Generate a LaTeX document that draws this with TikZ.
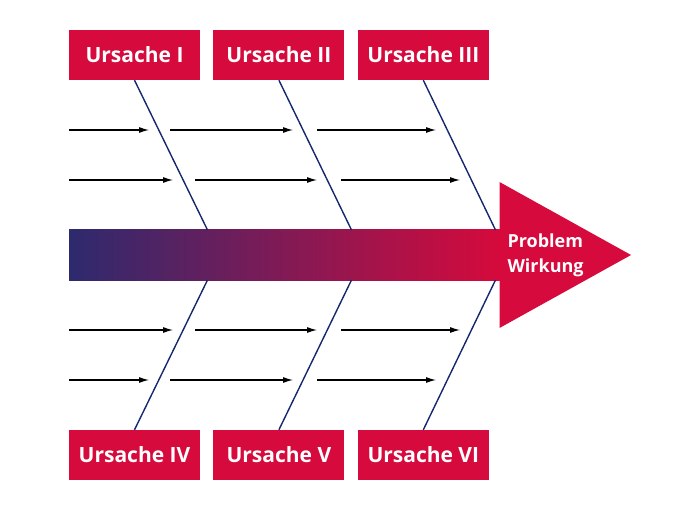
\documentclass[tikz,border=0pt]{standalone}
\usepackage{fontspec}
\setmainfont{Open Sans}
\usetikzlibrary{arrows.meta, positioning}
\definecolor{causered}{RGB}{214,10,60}
\definecolor{spineblue}{RGB}{45,42,110}
\definecolor{bonenavy}{RGB}{20,40,110}

\begin{document}
\begin{tikzpicture}[x=1pt, y=-1pt, >={Latex[length=10pt,width=6pt]}]
        % Define block styles
        \tikzstyle{cause} = [fill=causered, text=white, font=\bfseries\fontsize{21}{25}\selectfont, minimum width=131pt, minimum height=50pt, inner sep=0pt]
        \tikzstyle{bone} = [draw=bonenavy, line width=1.4pt]
        \tikzstyle{sub} = [->, line width=1.1pt]
        \useasboundingbox (0,0) rectangle (700,510);

        % Nodes
        \node [cause] (u1) at (134.5,55) {Ursache I};
        \node [cause, right=13pt of u1] (u2) {Ursache II};
        \node [cause, right=13pt of u2] (u3) {Ursache III};
        \node [cause] (u4) at (134.5,455) {Ursache IV};
        \node [cause, right=13pt of u4] (u5) {Ursache V};
        \node [cause, right=13pt of u5] (u6) {Ursache VI};
        \node [minimum width=431pt, minimum height=50pt, inner sep=0pt, left color=spineblue, right color=causered] (spine) at (284.5,255) {};
        \fill [causered] (499.5,182) -- (631,255) -- (499.5,328) -- cycle;
        \node [anchor=west, text=white, align=left, font=\bfseries\fontsize{18}{25}\selectfont] (effect) at (504,255) {Problem\\Wirkung};

        % Joints on the spine
        \coordinate (j1) at (207.5,230); \coordinate (j2) at (351.5,230); \coordinate (j3) at (495.5,230);
        \coordinate (j4) at (207.5,280); \coordinate (j5) at (351.5,280); \coordinate (j6) at (495.5,280);

        % Sub-cause ends
        \coordinate (s1) at (69,130);  \coordinate (e1) at (149,130);
        \coordinate (s2) at (170,130); \coordinate (e2) at (293,130);
        \coordinate (s3) at (317,130); \coordinate (e3) at (436,130);
        \coordinate (s4) at (69,180);  \coordinate (e4) at (173,180);
        \coordinate (s5) at (195,180); \coordinate (e5) at (317,180);
        \coordinate (s6) at (341,180); \coordinate (e6) at (460,180);
        \coordinate (s7) at (69,330);  \coordinate (e7) at (173,330);
        \coordinate (s8) at (195,330); \coordinate (e8) at (317,330);
        \coordinate (s9) at (341,330); \coordinate (e9) at (460,330);
        \coordinate (s10) at (69,380);  \coordinate (e10) at (149,380);
        \coordinate (s11) at (170,380); \coordinate (e11) at (293,380);
        \coordinate (s12) at (317,380); \coordinate (e12) at (436,380);

        % Edges
        \draw [bone] (u1.south) -- (j1);
        \draw [bone] (u2.south) -- (j2);
        \draw [bone] (u3.south) -- (j3);
        \draw [bone] (u4.north) -- (j4);
        \draw [bone] (u5.north) -- (j5);
        \draw [bone] (u6.north) -- (j6);
        \draw [sub] (s1) -- (e1);
        \draw [sub] (s2) -- (e2);
        \draw [sub] (s3) -- (e3);
        \draw [sub] (s4) -- (e4);
        \draw [sub] (s5) -- (e5);
        \draw [sub] (s6) -- (e6);
        \draw [sub] (s7) -- (e7);
        \draw [sub] (s8) -- (e8);
        \draw [sub] (s9) -- (e9);
        \draw [sub] (s10) -- (e10);
        \draw [sub] (s11) -- (e11);
        \draw [sub] (s12) -- (e12);
    \end{tikzpicture}
\end{document}
